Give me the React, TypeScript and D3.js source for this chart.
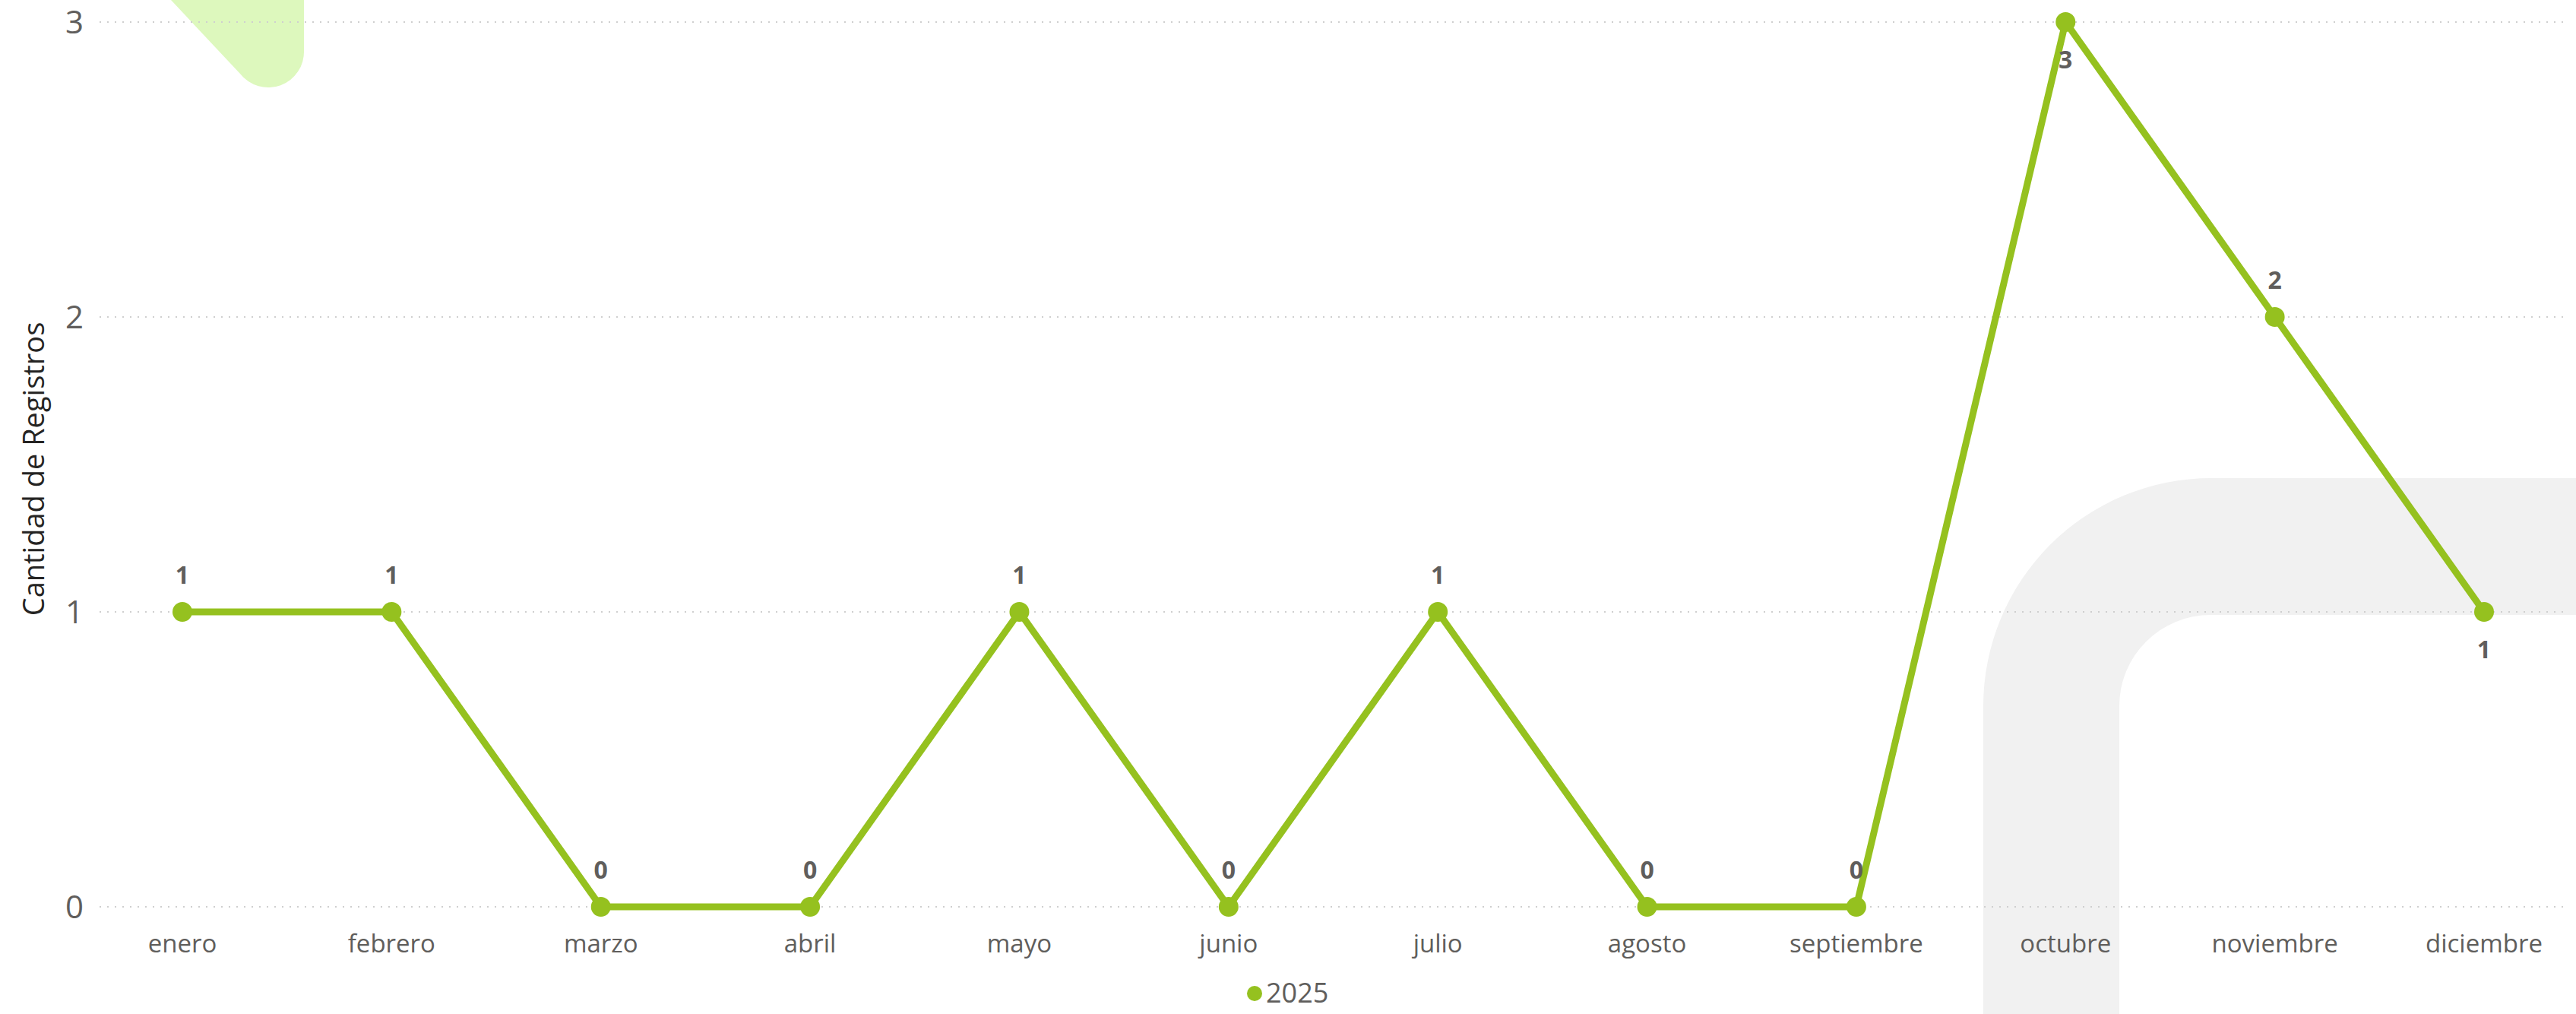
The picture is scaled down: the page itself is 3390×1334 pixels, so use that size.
import * as d3 from 'd3';

// datos del gráfico
const months = ['enero', 'febrero', 'marzo', 'abril', 'mayo', 'junio', 'julio', 'agosto', 'septiembre', 'octubre', 'noviembre', 'diciembre'];
const registros2025 = [1, 1, 0, 0, 1, 0, 1, 0, 0, 3, 2, 1];
const yTicks = [0, 1, 2, 3];
const labelBelow = ['octubre', 'diciembre'];
const seriesName = '2025';
const yTitle = 'Cantidad de Registros';

const W = 3390;
const H = 1334;
const GREEN = '#95C11F';
const FONT = '"Open Sans", "Noto Sans", sans-serif';

export default function App() {
  const x = d3.scalePoint<string>().domain(months).range([240, 3269]);
  const y = d3.scaleLinear().domain([0, 3]).range([1193, 29]);

  const pts = months.map((m, i) => ({ m, v: registros2025[i] }));
  const line = d3.line<{ m: string; v: number }>()
    .x(d => x(d.m) as number)
    .y(d => y(d.v));

  return (
    <svg width={W} height={H} style={{ position: 'absolute', left: 0, top: 0, background: '#fff' }}>
      {/* formas decorativas de fondo */}
      <path d="M225,0 L316,97 A47,47 0 0 0 400,66 L400,0 Z" fill="#DDF8BD" />
      <path d="M3390,629 L2910,629 A300,300 0 0 0 2610,929 L2610,1334 L2789,1334 L2789,929 A120,120 0 0 1 2909,809 L3390,809 Z" fill="#F1F1F1" />

      {/* líneas de cuadrícula */}
      {yTicks.map(t => (
        <line key={t} x1={131} x2={3373} y1={y(t)} y2={y(t)}
          stroke="#CFCFCF" strokeWidth={2} strokeDasharray="2 8" />
      ))}
      {yTicks.map(t => (
        <text key={'yt' + t} x={110} y={y(t) + 15} textAnchor="end"
          fontFamily={FONT} fontSize={42} fill="#605E5C">{t}</text>
      ))}

      <text transform={`translate(58, 617) rotate(-90)`} textAnchor="middle"
        fontFamily={FONT} fontSize={38} fill="#252423">{yTitle}</text>

      {months.map(m => (
        <text key={m} x={x(m)} y={1253} textAnchor="middle"
          fontFamily={FONT} fontSize={33} fill="#605E5C">{m}</text>
      ))}

      <path d={line(pts) || ''} fill="none" stroke={GREEN} strokeWidth={9} strokeLinejoin="round" />
      {pts.map(p => (
        <circle key={p.m} cx={x(p.m)} cy={y(p.v)} r={13} fill={GREEN} />
      ))}
      {pts.map(p => {
        const below = labelBelow.includes(p.m);
        return (
          <text key={'l' + p.m} x={x(p.m)} y={y(p.v) + (below ? 61 : -37)} textAnchor="middle"
            fontFamily={FONT} fontSize={32} fontWeight={700} fill="#605E5C">{p.v}</text>
        );
      })}

      {/* leyenda */}
      <circle cx={1651} cy={1307} r={10} fill={GREEN} />
      <text x={1666} y={1319} fontFamily={FONT} fontSize={36} fill="#605E5C">{seriesName}</text>
    </svg>
  );
}
